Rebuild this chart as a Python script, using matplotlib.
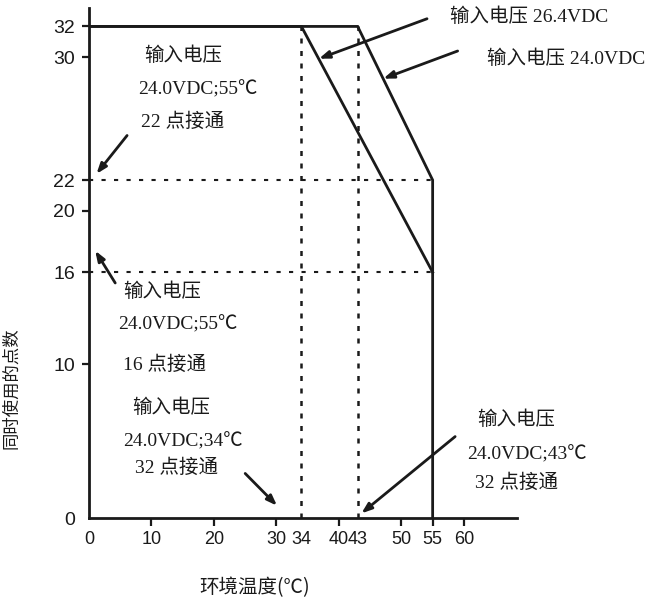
import matplotlib
matplotlib.use("Agg")
import matplotlib.pyplot as plt

plt.rcParams['font.family'] = ['Noto Sans CJK SC', 'DejaVu Sans']

# ---- data ----
v264_x = [0, 34, 55]
v264_y = [32, 32, 16]
v240_x = [0, 43, 55, 55]
v240_y = [32, 32, 22, 0]
ref_h_levels = [22, 16]
ref_h_end = 55
ref_v_temps = [34, 43]
ref_v_top = 32
xticks = [0, 10, 20, 30, 34, 40, 43, 50, 55, 60]
yticks = [0, 10, 16, 20, 22, 30, 32]
no_mark_x = [0, 34, 43]
no_mark_y = [0]

INK = '#1a1a1a'
SERIF = ['Liberation Serif', 'Noto Sans CJK SC']

fig = plt.figure(figsize=(6.64, 6.01), dpi=100)
ax = fig.add_axes([0.134, 0.1381, 0.6446, 0.8486])
ax.set_xlim(0, 68.5)
ax.set_ylim(0, 33.2)

# solid curves
ax.plot(v264_x, v264_y, color=INK, lw=2.0, solid_joinstyle='miter', zorder=3)
ax.plot(v240_x, v240_y, color=INK, lw=2.0, solid_joinstyle='miter', zorder=3)

# dashed reference lines
for lv in ref_h_levels:
    ax.plot([0, ref_h_end], [lv, lv], color=INK, lw=1.5, dashes=(2, 4), zorder=2)
for t in ref_v_temps:
    ax.plot([t, t], [0, ref_v_top], color=INK, lw=1.8, dashes=(2, 3), zorder=2)

# spines
for s in ['top', 'right']:
    ax.spines[s].set_visible(False)
for s in ['left', 'bottom']:
    ax.spines[s].set_linewidth(2.0)
    ax.spines[s].set_color(INK)

ax.set_xticks(xticks)
ax.set_yticks(yticks)
ax.set_xticklabels([str(v) for v in xticks], fontfamily='Liberation Sans', fontsize=13, color=INK)
ax.set_yticklabels([str(v) for v in yticks], fontfamily='Liberation Sans', fontsize=14, color=INK)
ax.tick_params(axis='x', direction='out', length=6, width=1.6, color=INK, pad=3)
ax.tick_params(axis='y', direction='out', length=5, width=1.6, color=INK, pad=5)
for v, tl in zip(xticks, ax.xaxis.get_major_ticks()):
    if v in no_mark_x:
        tl.tick1line.set_visible(False)
for v, tl in zip(yticks, ax.yaxis.get_major_ticks()):
    if v in no_mark_y:
        tl.tick1line.set_visible(False)

ax.set_xlabel('环境温度(℃)', fontsize=14, color=INK)
ax.xaxis.set_label_coords(0.388, -0.115)
ax.set_ylabel('同时使用的点数', fontsize=12.5, color=INK)
ax.yaxis.set_label_coords(-0.16, 0.255)

# annotation texts
def txt(x, y, s, **kw):
    ax.text(x, y, s, fontsize=14, family=SERIF, color=INK, ha='left', va='center', **kw)

txt(8.9, 30.1, '输入电压')
txt(7.8, 27.9, '24.0VDC;55℃')
txt(8.4, 25.8, '22 点接通')

txt(5.4, 14.7, '输入电压')
txt(4.7, 12.6, '24.0VDC;55℃')
txt(5.4, 10.0, '16 点接通')

txt(6.9, 7.2, '输入电压')
txt(5.4, 5.0, '24.0VDC;34℃')
txt(7.4, 3.3, '32 点接通')

txt(62.1, 6.4, '输入电压')
txt(60.5, 4.1, '24.0VDC;43℃')
txt(61.8, 2.3, '32 点接通')

txt(57.8, 32.6, '输入电压 26.4VDC')
txt(63.7, 29.9, '输入电压 24.0VDC')

# arrows
def arrow(head, tail):
    ax.annotate('', xy=head, xytext=tail,
                arrowprops=dict(arrowstyle='-|>,head_length=0.6,head_width=0.22',
                                color=INK, lw=2.0, shrinkA=0, shrinkB=0),
                annotation_clip=False, zorder=4)

arrow((1.2, 22.4), (6.1, 24.9))
arrow((1.0, 17.4), (4.2, 15.3))
arrow((30.1, 0.8), (25.0, 2.9))
arrow((43.6, 0.3), (58.6, 5.3))
arrow((36.8, 29.9), (54.1, 32.5))
arrow((47.1, 28.6), (59.0, 30.4))

fig.savefig('out.png', dpi=100)
